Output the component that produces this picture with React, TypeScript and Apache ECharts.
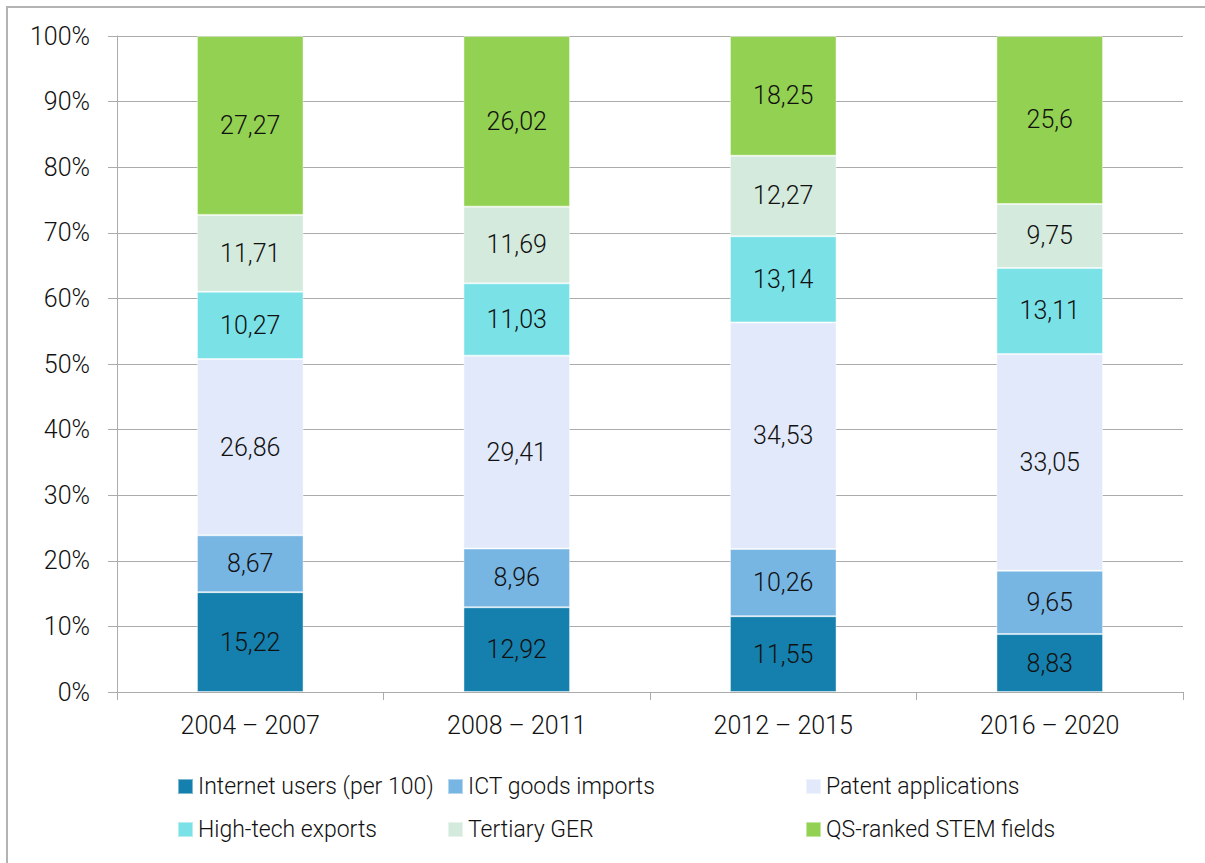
import React, { useEffect, useRef } from "react";
import * as echarts from "echarts";

const categories = ["2004 – 2007", "2008 – 2011", "2012 – 2015", "2016 – 2020"];
const seriesNames = [
  "Internet users (per 100)",
  "ICT goods imports",
  "Patent applications",
  "High-tech exports",
  "Tertiary GER",
  "QS-ranked STEM fields",
];
const internetUsers = [15.22, 12.92, 11.55, 8.83];
const ictImports = [8.67, 8.96, 10.26, 9.65];
const patentApps = [26.86, 29.41, 34.53, 33.05];
const hightechExports = [10.27, 11.03, 13.14, 13.11];
const tertiaryGER = [11.71, 11.69, 12.27, 9.75];
const qsStem = [27.27, 26.02, 18.25, 25.6];
const yTicks = [0, 10, 20, 30, 40, 50, 60, 70, 80, 90, 100];

const colors = ["#1580ad", "#77b5e3", "#e1e9fa", "#7ae1e7", "#d3eadc", "#93d152"];
const FONT = "Roboto";
const TEXT = "#111111";
const GRAY = "#ababab";

export default function App() {
  const ref = useRef<HTMLDivElement>(null);
  useEffect(() => {
    document.body.style.margin = "0";
    if (!ref.current) return;
    const chart = echarts.init(ref.current, undefined, { renderer: "svg" });
    const all = [internetUsers, ictImports, patentApps, hightechExports, tertiaryGER, qsStem];
    const totals = categories.map((_, i) => all.reduce((s, arr) => s + arr[i], 0));
    const series = all.map((arr, k) => ({
      name: seriesNames[k],
      type: "bar",
      stack: "total",
      barWidth: "40%",
      data: arr.map((v, i) => ({ value: (v / totals[i]) * 100, raw: v })),
      itemStyle: { color: colors[k], borderColor: "rgba(255,255,255,0.45)", borderWidth: 1 },
      label: {
        show: true,
        position: "inside",
        fontFamily: FONT,
        fontWeight: 300,
        fontSize: 25,
        color: TEXT,
        formatter: (p: any) => String(p.data.raw).replace(".", ","),
      },
    }));
    const legendBase = {
      orient: "vertical",
      top: 775,
      padding: 0,
      itemWidth: 15,
      itemHeight: 15,
      itemGap: 20,
      icon: "rect",
      textStyle: { fontFamily: FONT, fontWeight: 300, fontSize: 23, color: TEXT },
    };
    chart.setOption({
      animation: false,
      backgroundColor: "#ffffff",
      grid: { left: 117, right: 22, top: 36, bottom: 171 },
      graphic: [
        {
          type: "rect",
          shape: { x: 7, y: 7, width: 1220, height: 880 },
          style: { fill: "none", stroke: "#b3b3b3", lineWidth: 2 },
          silent: true,
        },
      ],
      legend: [
        { ...legendBase, left: 177, data: [seriesNames[0], seriesNames[3]] },
        { ...legendBase, left: 447, data: [seriesNames[1], seriesNames[4]] },
        { ...legendBase, left: 805, data: [seriesNames[2], seriesNames[5]] },
      ],
      xAxis: {
        type: "category",
        data: categories,
        axisLine: { lineStyle: { color: GRAY, width: 1 } },
        axisTick: { show: true, length: 8, lineStyle: { color: GRAY } },
        axisLabel: { fontFamily: FONT, fontWeight: 300, fontSize: 25, color: TEXT, margin: 21 },
      },
      yAxis: {
        type: "value",
        min: yTicks[0],
        max: yTicks[yTicks.length - 1],
        interval: 10,
        axisLine: { show: true, lineStyle: { color: GRAY, width: 1 } },
        axisTick: { show: true, length: 9, lineStyle: { color: GRAY } },
        splitLine: { lineStyle: { color: GRAY, width: 1 } },
        axisLabel: {
          fontFamily: FONT,
          fontWeight: 300,
          fontSize: 25,
          color: TEXT,
          margin: 27,
          formatter: (v: number) => `${v}%`,
        },
      },
      series,
    });
    return () => chart.dispose();
  }, []);
  return <div ref={ref} style={{ width: 1205, height: 863 }} />;
}
